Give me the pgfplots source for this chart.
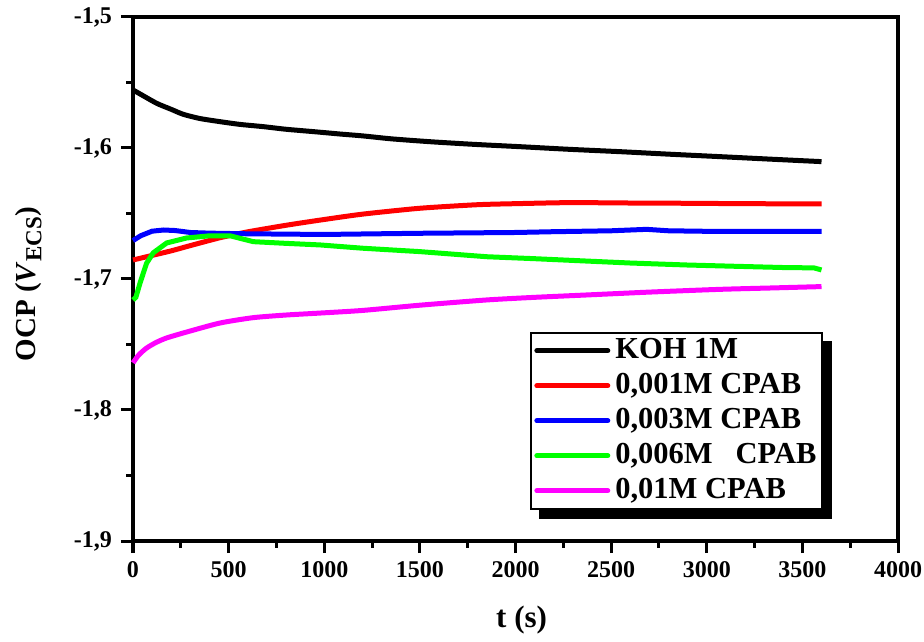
\documentclass[border=0pt]{standalone}
\usepackage{pgfplots}
\pgfplotsset{compat=1.18}
\pgfplotsset{every axis/.append style={line width=3.5pt, tick style={line width=3pt, black}}}
\usepackage{fontspec}
\setmainfont{Liberation Serif}
\definecolor{cred}{RGB}{255,0,0}
\definecolor{cblue}{RGB}{0,0,255}
\definecolor{cgreen}{RGB}{0,255,0}
\definecolor{cmag}{RGB}{255,0,255}
\begin{document}
\begin{tikzpicture}
\begin{axis}[
  scale only axis,
  width=765pt, height=524pt,
  xmin=0, xmax=4000, ymin=-1.9, ymax=-1.5,
  xtick={0,500,...,4000},
  ytick={-1.9,-1.8,-1.7,-1.6,-1.5},
  minor tick num=1,
  xtick pos=bottom, ytick pos=left,
  tick align=outside,
  major tick length=12pt, minor tick length=6.5pt,
  axis line style={line width=3.5pt, line cap=rect, black},
  major tick style={line width=3pt, black},
  minor tick style={line width=3pt, black},
  /pgf/number format/assume math mode=true,
  x tick label style={/pgf/number format/1000 sep={}, font=\fontsize{24}{24}\selectfont\bfseries, yshift=-3pt},
  y tick label style={/pgf/number format/.cd, fixed, fixed zerofill, precision=1, use comma, /tikz/.cd, font=\fontsize{24}{24}\selectfont\bfseries, xshift=-4pt},
  xlabel={t (s)},
  ylabel={OCP (\textit{V}\raisebox{-0.4ex}{\fontsize{23}{23}\selectfont ECS})},
  every axis x label/.style={at={(rel axis cs:0.508,0)}, yshift=-79pt, anchor=center, font=\fontsize{31}{31}\selectfont\bfseries},
  every axis y label/.style={at={(rel axis cs:0,0.49)}, xshift=-104pt, rotate=90, anchor=center, font=\fontsize{29}{29}\selectfont\bfseries},
  legend cell align=left,
  legend image code/.code={\draw[#1, line width=5pt, line cap=round] (0pt,0pt) -- (71pt,0pt);},
  legend style={name=leg, at={(rel axis cs:0.519,0.399)}, anchor=north west, draw=black, line width=1.6pt, fill=white,
    font=\fontsize{30.5}{31}\selectfont\bfseries, inner sep=3.5pt, row sep=6pt,
    nodes={inner sep=2pt, text height=20pt, text depth=5pt},
    /tikz/every odd column/.append style={column sep=3pt}},
  clip=false,
]
\coordinate (sw) at (rel axis cs:0,0);
\coordinate (ne) at (rel axis cs:1,1);
\addplot[black, line width=5pt, smooth, tension=0.4] coordinates {
(0,-1.5557) (40,-1.5590) (124,-1.5659) (200,-1.5705) (263,-1.5743) (350,-1.5775) (455,-1.5799) (560,-1.5820) (681,-1.5837) (800,-1.5857) (943,-1.5875) (1080,-1.5893) (1204,-1.5908) (1350,-1.5930) (1553,-1.5952) (1780,-1.5972) (2024,-1.5990) (2280,-1.6010) (2546,-1.6028) (2800,-1.6047) (3069,-1.6066) (3330,-1.6085) (3600,-1.6104)
};
\addlegendentry{KOH 1M}
\addplot[cred, line width=5pt, smooth, tension=0.4] coordinates {
(0,-1.6855) (100,-1.6820) (200,-1.6785) (300,-1.6745) (455,-1.6685) (600,-1.6640) (800,-1.6590) (980,-1.6550) (1200,-1.6505) (1500,-1.6460) (1800,-1.6433) (2000,-1.6425) (2284,-1.6417) (2600,-1.6420) (2892,-1.6422) (3200,-1.6425) (3600,-1.6427)
};
\addlegendentry{0,001M CPAB}
\addplot[cblue, line width=5pt] coordinates {
(0,-1.6707) (40,-1.6670) (100,-1.6635) (160,-1.6626) (220,-1.6630) (300,-1.6645) (400,-1.6650) (600,-1.6655) (1000,-1.6660) (1500,-1.6651) (2000,-1.6645) (2197,-1.6639) (2500,-1.6632) (2685,-1.6621) (2800,-1.6632) (3000,-1.6636) (3300,-1.6636) (3600,-1.6636)
};
\addlegendentry{0,003M CPAB}
\addplot[cgreen, line width=5pt] coordinates {
(0,-1.7160) (15,-1.7140) (37,-1.7030) (71,-1.6880) (106,-1.6800) (176,-1.6725) (280,-1.6687) (403,-1.6670) (507,-1.6670) (629,-1.6715) (800,-1.6728) (978,-1.6740) (1200,-1.6765) (1500,-1.6791) (1849,-1.6830) (2100,-1.6845) (2371,-1.6863) (2600,-1.6878) (2892,-1.6893) (3150,-1.6903) (3415,-1.6913) (3560,-1.6915) (3600,-1.6931)
};
\addlegendentry{0,006M\ \ \ CPAB}
\addplot[cmag, line width=5pt, smooth, tension=0.4] coordinates {
(0,-1.7640) (30,-1.7580) (71,-1.7527) (120,-1.7485) (176,-1.7450) (280,-1.7405) (455,-1.7336) (629,-1.7295) (800,-1.7275) (978,-1.7260) (1200,-1.7240) (1500,-1.7200) (1849,-1.7160) (2100,-1.7140) (2371,-1.7122) (2700,-1.7100) (3069,-1.7079) (3350,-1.7068) (3600,-1.7058)
};
\addlegendentry{0,01M CPAB}
\end{axis}
\fill[black] ([shift={(0pt,-9pt)}]leg.north east) rectangle ([shift={(9pt,-9pt)}]leg.south east);
\fill[black] ([shift={(9pt,0pt)}]leg.south west) rectangle ([shift={(9pt,-9pt)}]leg.south east);
\pgfresetboundingbox
\path[use as bounding box] ([shift={(-133pt,-100pt)}]sw) rectangle ([shift={(26pt,17pt)}]ne);
\end{tikzpicture}
\end{document}
